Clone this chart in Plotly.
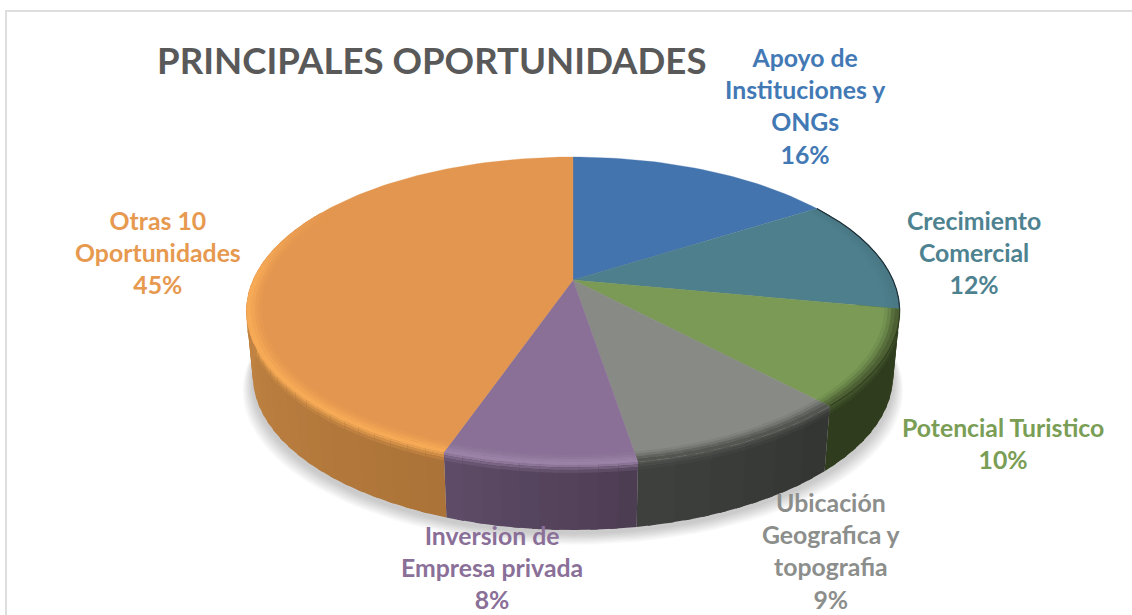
import math
import plotly.graph_objects as go

# ---- data (clockwise from 12 o'clock) ----
labels = ["Apoyo de<br>Instituciones y<br>ONGs", "Crecimiento<br>Comercial", "Potencial Turistico",
          "Ubicación<br>Geografica y<br>topografia", "Inversion de<br>Empresa privada",
          "Otras 10<br>Oportunidades"]
values = [16.0, 12.0, 10.0, 9.4, 7.9, 44.7]
title_text = "PRINCIPALES OPORTUNIDADES"

# ---- style ----
top_colors = ["#4474AE", "#4E7F8C", "#7A9A55", "#878A85", "#8A7096", "#E3964F"]
text_colors = ["#4279B5", "#4E8290", "#7A9E55", "#8C8E8C", "#8A6F98", "#E6994F"]
wall_start = ["#4474AE", "#1E3038", "#2F3D1E", "#333533", "#4C3C52", "#AC7338"]
wall_end = ["#4474AE", "#1E3038", "#2F3D1E", "#3F413E", "#5F4C68", "#CC8D49"]
rim_colors = ["#4474AE", "#4A7885", "#4C6034", "#545652", "#9A82A6", "#F6AA56"]
label_pos = [(805, 106), (974, 252), (1003, 443), (831, 551), (492, 567), (158, 252)]
FONT = "Lato"

CX, CY, A, B, K = 573.0, 280.0, 320.0, 147.8, 0.2013
DEPTH, SHRINK = 65.0, 0.98


def top(theta, r=1.0):
    u, v = r * math.sin(theta), -r * math.cos(theta)
    w = 1 - K * v
    return CX + A * u / w, CY + B * v / w


def bottom(theta):
    x, y = top(theta)
    return CX + (x - CX) * SHRINK, y + DEPTH


def rgb(h):
    return tuple(int(h[i:i + 2], 16) for i in (1, 3, 5))


def mix(a, b, t):
    ca, cb = rgb(a), rgb(b)
    return "#%02X%02X%02X" % tuple(round(x + (y - x) * t) for x, y in zip(ca, cb))


def down(p, dy):
    return p[0], p[1] + dy


fig = go.Figure()


def poly(pts, color, lw=0.0):
    fig.add_trace(go.Scatter(x=[p[0] for p in pts] + [pts[0][0]], y=[p[1] for p in pts] + [pts[0][1]],
                             mode="lines", fill="toself", fillcolor=color,
                             line=dict(color=color, width=lw), hoverinfo="skip", showlegend=False))


# soft shadow under the disc
for grow in range(9, 0, -1):
    pts = []
    for i in range(120):
        t = 2 * math.pi * i / 120
        x, y = bottom(t)
        pts.append((CX + (x - CX) * (1 + grow * 0.0035), y + 3 + grow * 1.3))
    poly(pts, "rgba(0,0,0,0.024)")

total = sum(values)
edges = [0.0]
for v in values:
    edges.append(edges[-1] + v / total * 2 * math.pi)

VIS_A, VIS_B = math.radians(57.7), math.radians(300)
STEP = math.radians(3)
WALL_BEVEL = [(0, 2.5, 0.2), (2.5, 5, 0.5), (5, 8, 0.8)]
BANDS = [(0.955, 0.965, 0.15), (0.965, 0.975, 0.4), (0.975, 0.985, 0.75), (0.985, 1.0, 1.0)]


def fade(t):
    return max(0.0, min(1.0, (math.radians(300) - t) / math.radians(30)))


def strips(i):
    a0, a1 = max(edges[i], VIS_A), min(edges[i + 1], VIS_B)
    if a1 <= a0:
        return []
    n = max(1, math.ceil((a1 - a0) / STEP))
    d = (a1 - a0) / n
    # each strip runs slightly into the next, which is painted over it, so no seams show
    return [(a0 + d * j, min(a0 + d * (j + 1.4), a1), (j + 0.5) / n) for j in range(n)]


# walls
for i in range(len(values)):
    for t0, t1, f in strips(i):
        wall = mix(wall_start[i], wall_end[i], f)
        poly([top(t0), top(t1), bottom(t1), bottom(t0)], wall)
        for d0, d1, s in WALL_BEVEL:
            poly([down(top(t0), d0), down(top(t1), d0), down(top(t1), d1), down(top(t0), d1)],
                 mix(mix(top_colors[i], rim_colors[i], fade(t0)), wall, s))

# flat top faces
for i in range(len(values)):
    n = max(2, math.ceil((edges[i + 1] - edges[i]) / math.radians(1.5)))
    arc = [top(edges[i] + (edges[i + 1] - edges[i]) * j / n) for j in range(n + 1)]
    poly([top(0, 0)] + arc, top_colors[i], 0.3)

# bevel round the visible rim
for i in range(len(values)):
    for t0, t1, f in strips(i):
        wall = mix(wall_start[i], wall_end[i], f)
        for r0, r1, s in BANDS:
            poly([top(t0, r0), top(t1, r0), top(t1, r1), top(t0, r1)],
                 mix(top_colors[i], rim_colors[i], s * fade(t0)))
    # fine dark outline on the far edge of the teal and green slices
    if i in (1, 2):
        n = 12
        line = [top(edges[i] + (edges[i + 1] - edges[i]) * j / n) for j in range(n + 1)]
        fig.add_trace(go.Scatter(x=[p[0] for p in line], y=[p[1] for p in line], mode="lines",
                                 line=dict(color=wall_start[i], width=1.2), hoverinfo="skip", showlegend=False))

# labels
annotations = [dict(x=431, y=60, text="<b>%s</b>" % title_text, showarrow=False, xref="x", yref="y",
                    font=dict(family=FONT, size=36.6, color="#595959"))]
for lab, val, pos, col in zip(labels, values, label_pos, text_colors):
    annotations.append(dict(x=pos[0], y=pos[1], text="<b>%s<br>%d%%</b>" % (lab, round(val)), showarrow=False,
                            xref="x", yref="y", align="center",
                            font=dict(family=FONT, size=24.8, color=col)))

fig.update_layout(
    width=1132, height=615, margin=dict(l=0, r=0, t=0, b=0), showlegend=False,
    paper_bgcolor="white", plot_bgcolor="white",
    xaxis=dict(range=[0, 1132], visible=False, fixedrange=True),
    yaxis=dict(range=[615, 0], visible=False, fixedrange=True),
    annotations=annotations,
    shapes=[dict(type="path", path="M 6 615 L 6 11 L 1132 11", xref="x", yref="y",
                 line=dict(color="#DEDEDE", width=2))],
)
fig.write_html("out.html", config={"displayModeBar": False},
               post_script="document.body.style.margin='0';document.body.style.overflow='hidden';")
